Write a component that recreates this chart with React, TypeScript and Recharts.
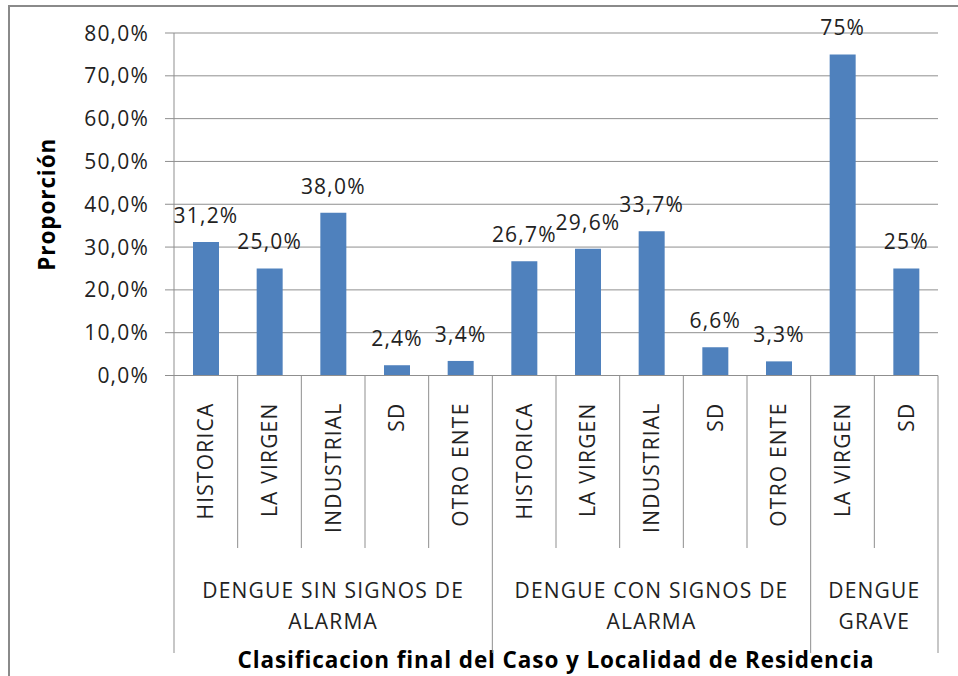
import React from 'react';
import { BarChart, Bar, XAxis, YAxis, CartesianGrid, LabelList } from 'recharts';

const localities = ['HISTORICA', 'LA VIRGEN', 'INDUSTRIAL', 'SD', 'OTRO ENTE', 'HISTORICA', 'LA VIRGEN', 'INDUSTRIAL', 'SD', 'OTRO ENTE', 'LA VIRGEN', 'SD'];
const proportions = [31.2, 25.0, 38.0, 2.4, 3.4, 26.7, 29.6, 33.7, 6.6, 3.3, 75, 25];
const valueLabels = ['31,2%', '25,0%', '38,0%', '2,4%', '3,4%', '26,7%', '29,6%', '33,7%', '6,6%', '3,3%', '75%', '25%'];
const groupNames = [['DENGUE SIN SIGNOS DE', 'ALARMA'], ['DENGUE CON SIGNOS DE', 'ALARMA'], ['DENGUE', 'GRAVE']];
const groupSizes = [5, 5, 2];
const yTicks = [0, 10, 20, 30, 40, 50, 60, 70, 80];
const yTickLabels = ['0,0%', '10,0%', '20,0%', '30,0%', '40,0%', '50,0%', '60,0%', '70,0%', '80,0%'];
const xTitle = 'Clasificacion final del Caso y Localidad de Residencia';
const yTitle = 'Proporción';

const data = localities.map((name, i) => ({ key: i, name, value: proportions[i], label: valueLabels[i] }));

const FONT = "'Open Sans', sans-serif";
const TEXT = '#222222';
const LINE = '#8f8f8f';
const BAR = '#4F81BD';
const FS = 21;
const LS = 1.2;
const TFS = 22.5;
const TLS = 0.9;

const groupStarts = (): number[] => {
  let s = 0;
  return groupSizes.map((n) => {
    const r = s;
    s += n;
    return r;
  });
};

const XTick = (props: any) => {
  const { x, y, payload, width } = props;
  const idx: number = typeof payload?.value === 'number' ? payload.value : props.index;
  const n = localities.length;
  const bw = payload && payload.offset ? payload.offset * 2 : width / n;
  const starts = groupStarts();
  const isStart = starts.includes(idx);
  const left = x - bw / 2;
  const els: any[] = [];
  els.push(<line key="sep" x1={left} x2={left} y1={y} y2={y + (isStart ? 277.5 : 172.5)} stroke={LINE} strokeWidth={1} />);
  if (idx === n - 1) {
    els.push(<line key="end" x1={x + bw / 2} x2={x + bw / 2} y1={y} y2={y + 277.5} stroke={LINE} strokeWidth={1} />);
  }
  els.push(
    <text key="lab" transform={`translate(${x},${y + 27}) rotate(-90)`} textAnchor="end" dy="0.36em" fontFamily={FONT} fontSize={FS} letterSpacing={LS} fill={TEXT}>
      {localities[idx]}
    </text>
  );
  const g = starts.indexOf(idx);
  if (g >= 0) {
    const cx = left + (groupSizes[g] * bw) / 2;
    groupNames[g].forEach((line, k) => {
      els.push(
        <text key={'g' + k} x={cx} y={y + 222.5 + k * 31} textAnchor="middle" fontFamily={FONT} fontSize={FS} letterSpacing={LS} fill={TEXT}>
          {line}
        </text>
      );
    });
  }
  return <g>{els}</g>;
};

const YTick = (props: any) => {
  const { x, y, payload } = props;
  const i = yTicks.indexOf(payload.value);
  return (
    <text x={x} y={y} dy="0.36em" textAnchor="end" fontFamily={FONT} fontSize={FS} letterSpacing={LS} fill={TEXT}>
      {yTickLabels[i]}
    </text>
  );
};

const BarValueLabel = (props: any) => {
  const { x, y, width, value } = props;
  return (
    <text x={x + width / 2} y={y - 19} textAnchor="middle" fontFamily={FONT} fontSize={FS} letterSpacing={LS} fill={TEXT}>
      {value}
    </text>
  );
};

const XTitle = (props: any) => {
  const vb = props.viewBox || {};
  return (
    <text x={vb.x + vb.width / 2} y={668} textAnchor="middle" fontFamily={FONT} fontSize={TFS} letterSpacing={TLS} fontWeight="bold" fill="#000">
      {xTitle}
    </text>
  );
};

const YTitle = (props: any) => {
  const vb = props.viewBox || {};
  const cy = vb.y + vb.height / 2;
  return (
    <text transform={`translate(55,${cy}) rotate(-90)`} textAnchor="middle" fontFamily={FONT} fontSize={TFS} letterSpacing={TLS} fontWeight="bold" fill="#000">
      {yTitle}
    </text>
  );
};

export default function App() {
  return (
    <div style={{ position: 'absolute', left: 0, top: 0, width: 958, height: 676, background: '#ffffff', overflow: 'hidden' }}>
      <div
        style={{
          position: 'absolute',
          left: 8,
          top: 5,
          width: 958,
          height: 676,
          borderTop: '2px solid #8a8a8a',
          borderLeft: '2px solid #8a8a8a',
        }}
      />
      <div style={{ position: 'absolute', left: 0, top: 0 }}>
        <BarChart width={958} height={676} data={data} margin={{ top: 33, right: 20, bottom: 0, left: 0 }}>
          <CartesianGrid horizontal={true} vertical={false} stroke={LINE} strokeDasharray="" />
          <XAxis
            dataKey="key"
            type="category"
            interval={0}
            height={300.5}
            tickLine={false}
            tickSize={0}
            tickMargin={0}
            axisLine={{ stroke: LINE }}
            tick={<XTick />}
            label={{ content: <XTitle /> }}
          />
          <YAxis
            type="number"
            domain={[0, 80]}
            ticks={yTicks}
            interval={0}
            width={174}
            tickSize={9}
            tickMargin={16}
            tickLine={{ stroke: LINE }}
            axisLine={{ stroke: LINE }}
            tick={<YTick />}
            label={{ content: <YTitle /> }}
          />
          <Bar dataKey="value" fill={BAR} barSize={26} isAnimationActive={false}>
            <LabelList dataKey="label" content={<BarValueLabel />} />
          </Bar>
        </BarChart>
      </div>
    </div>
  );
}
